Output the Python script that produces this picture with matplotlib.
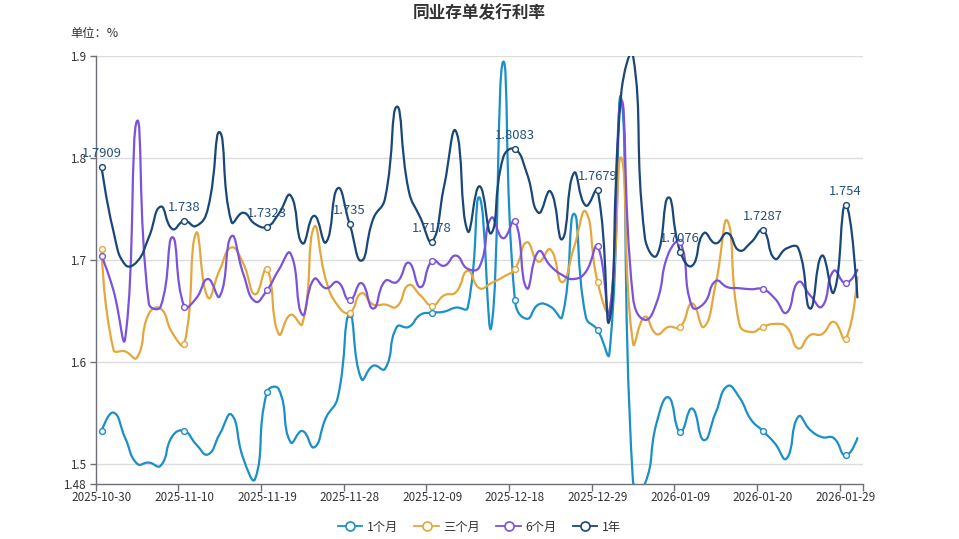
import numpy as np
import pandas as pd
import matplotlib
matplotlib.use("Agg")
import matplotlib.pyplot as plt
from matplotlib.path import Path
from matplotlib.patches import PathPatch
from matplotlib.lines import Line2D

plt.rcParams['font.family'] = ['Noto Sans CJK SC', 'DejaVu Sans']

# ---------------- data ----------------
dates = [d.strftime('%Y-%m-%d') for d in pd.bdate_range(
    '2025-10-30', '2026-01-30', freq='C',
    holidays=['2026-01-01', '2026-01-02'])]

series_names = ['1个月', '三个月', '6个月', '1年']

m1 = [1.532, 1.550, 1.525, 1.500, 1.501, 1.498, 1.527, 1.532, 1.519, 1.509,
      1.529, 1.548, 1.505, 1.485, 1.570, 1.573, 1.521, 1.532, 1.516, 1.545,
      1.565, 1.647, 1.583, 1.596, 1.593, 1.634, 1.634, 1.646, 1.648, 1.649,
      1.653, 1.653, 1.761, 1.634, 1.894, 1.660, 1.642, 1.656, 1.654, 1.644,
      1.745, 1.644, 1.631, 1.608, 1.858, 1.482, 1.480, 1.540, 1.565, 1.531,
      1.554, 1.523, 1.550, 1.576, 1.565, 1.543, 1.532, 1.520, 1.505, 1.546,
      1.533, 1.526, 1.525, 1.508, 1.525]

m3 = [1.710, 1.612, 1.610, 1.604, 1.647, 1.652, 1.628, 1.617, 1.726, 1.663,
      1.690, 1.712, 1.696, 1.666, 1.691, 1.627, 1.646, 1.637, 1.732, 1.680,
      1.655, 1.648, 1.667, 1.656, 1.656, 1.654, 1.675, 1.665, 1.655, 1.665,
      1.668, 1.689, 1.672, 1.677, 1.683, 1.691, 1.717, 1.698, 1.710, 1.678,
      1.712, 1.747, 1.678, 1.650, 1.800, 1.618, 1.644, 1.627, 1.634, 1.634,
      1.657, 1.634, 1.676, 1.738, 1.637, 1.629, 1.634, 1.637, 1.634, 1.613,
      1.626, 1.627, 1.639, 1.622, 1.683]

m6 = [1.704, 1.670, 1.623, 1.836, 1.657, 1.654, 1.722, 1.654, 1.662, 1.681,
      1.664, 1.723, 1.686, 1.659, 1.670, 1.690, 1.706, 1.646, 1.681, 1.672,
      1.678, 1.660, 1.677, 1.652, 1.679, 1.678, 1.697, 1.673, 1.699, 1.694,
      1.704, 1.691, 1.693, 1.741, 1.721, 1.738, 1.672, 1.708, 1.694, 1.685,
      1.681, 1.688, 1.713, 1.647, 1.856, 1.663, 1.641, 1.658, 1.706, 1.717,
      1.654, 1.657, 1.679, 1.673, 1.672, 1.671, 1.671, 1.662, 1.648, 1.678,
      1.665, 1.654, 1.689, 1.677, 1.690]

y1 = [1.7909, 1.728, 1.695, 1.698, 1.722, 1.752, 1.730, 1.738, 1.733, 1.750,
      1.825, 1.737, 1.746, 1.735, 1.7323, 1.745, 1.763, 1.716, 1.743, 1.717,
      1.770, 1.735, 1.699, 1.740, 1.760, 1.850, 1.768, 1.741, 1.7178, 1.772,
      1.826, 1.728, 1.772, 1.726, 1.800, 1.8083, 1.785, 1.746, 1.767, 1.720,
      1.785, 1.753, 1.7679, 1.640, 1.863, 1.900, 1.722, 1.704, 1.761, 1.7076,
      1.694, 1.726, 1.716, 1.726, 1.709, 1.717, 1.7287, 1.701, 1.711, 1.711,
      1.652, 1.704, 1.668, 1.754, 1.663]

y_ticks = [1.48, 1.5, 1.6, 1.7, 1.8, 1.9]
y_tick_labels = ['1.48', '1.5', '1.6', '1.7', '1.8', '1.9']

colors = ['#1a8fc8', '#e4a73d', '#7b52db', '#19477a']
all_series = [m1, m3, m6, y1]

# ---------------- figure ----------------
W, H = 959, 539
fig = plt.figure(figsize=(W / 100, H / 100), dpi=100)
left_px, right_px, top_px, bot_px = 95.7, 863.3, 55.7, 484.0
ax = fig.add_axes([left_px / W, 1 - bot_px / H,
                   (right_px - left_px) / W, (bot_px - top_px) / H])

n = len(dates)
ax.set_xlim(-0.5, n - 0.5)
ax.set_ylim(1.48, 1.9)

sx = (right_px - left_px) / n
sy = (bot_px - top_px) / (1.9 - 1.48)


def smooth_path(xs, ys, smooth=0.5):
    P = np.column_stack([np.asarray(xs, float) * sx, np.asarray(ys, float) * sy])
    verts = [P[0]]
    codes = [Path.MOVETO]
    cp0 = P[0]
    for i in range(1, len(P)):
        cur = P[i]
        prev = P[i - 1]
        if i == len(P) - 1:
            ncp = cur
            nxt_cp0 = cur
        else:
            nxt = P[i + 1]
            v = nxt - prev
            l0 = np.hypot(*(cur - prev))
            l1 = np.hypot(*(nxt - cur))
            r = l1 / (l0 + l1) if (l0 + l1) > 0 else 0.5
            ncp = cur - v * smooth * (1 - r)
            nxt_cp0 = cur + v * smooth * r
        verts += [cp0, ncp, cur]
        codes += [Path.CURVE4] * 3
        cp0 = nxt_cp0
    V = np.array(verts)
    V[:, 0] /= sx
    V[:, 1] /= sy
    return Path(V, codes)


x = np.arange(n)
label_idx = list(range(0, n, 7))

for k, (vals, c) in enumerate(zip(all_series, colors)):
    p = smooth_path(x, vals)
    patch = PathPatch(p, fill=False, edgecolor=c, lw=1.6, zorder=3 + k,
                      joinstyle='round', capstyle='round')
    ax.add_patch(patch)
    ax.plot(x[label_idx], np.asarray(vals)[label_idx], 'o', ms=4.2,
            mfc='white', mec=c, mew=1.0, zorder=10 + k, clip_on=False)

# value labels for 1年
for i in label_idx:
    v = y1[i]
    ax.annotate(f'{v:g}', (i, v), xytext=(0, 7), textcoords='offset pixels',
                ha='center', va='bottom', fontsize=9.4, color='#24507e',
                zorder=20)

# axes styling
for s in ['top', 'right']:
    ax.spines[s].set_visible(False)
for s in ['left', 'bottom']:
    ax.spines[s].set_color('#6e7079')
    ax.spines[s].set_linewidth(1.0)

ax.set_yticks(y_ticks)
ax.set_yticklabels(y_tick_labels)
ax.tick_params(axis='y', length=4, width=1, color='#6e7079',
               labelsize=8.4, labelcolor='#333333', pad=3)
for yv in y_ticks[1:]:
    ax.axhline(yv, color='#dcdcdc', lw=1.0, zorder=1)

ax.set_xticks([i - 0.5 for i in label_idx] + [n - 0.5])
ax.set_xticklabels([])
ax.set_xticks(label_idx, minor=True)
ax.set_xticklabels([dates[i] for i in label_idx], minor=True)
ax.tick_params(axis='x', which='major', length=5, width=1, color='#6e7079')
ax.tick_params(axis='x', which='minor', length=0, labelsize=8.4,
               labelcolor='#333333', pad=5)

# title & unit
fig.text(0.5, 1 - 13 / H, '同业存单发行利率', ha='center', va='center',
         fontsize=12, fontweight='bold', color='#333333')
fig.text(70 / W, 1 - 33 / H, '单位：%', ha='left', va='center',
         fontsize=8.8, color='#333333')

# legend
handles = [Line2D([], [], color=c, lw=1.3, marker='o', ms=6.5, mfc='white',
                  mec=c, mew=1.2) for c in colors]
fig.legend(handles, series_names, loc='center', ncol=4,
           bbox_to_anchor=(0.5, 1 - 527 / H), frameon=False, fontsize=8.8,
           handlelength=2.0, handletextpad=0.4, columnspacing=1.3,
           labelcolor='#333333')

fig.savefig('out.png', dpi=100)
